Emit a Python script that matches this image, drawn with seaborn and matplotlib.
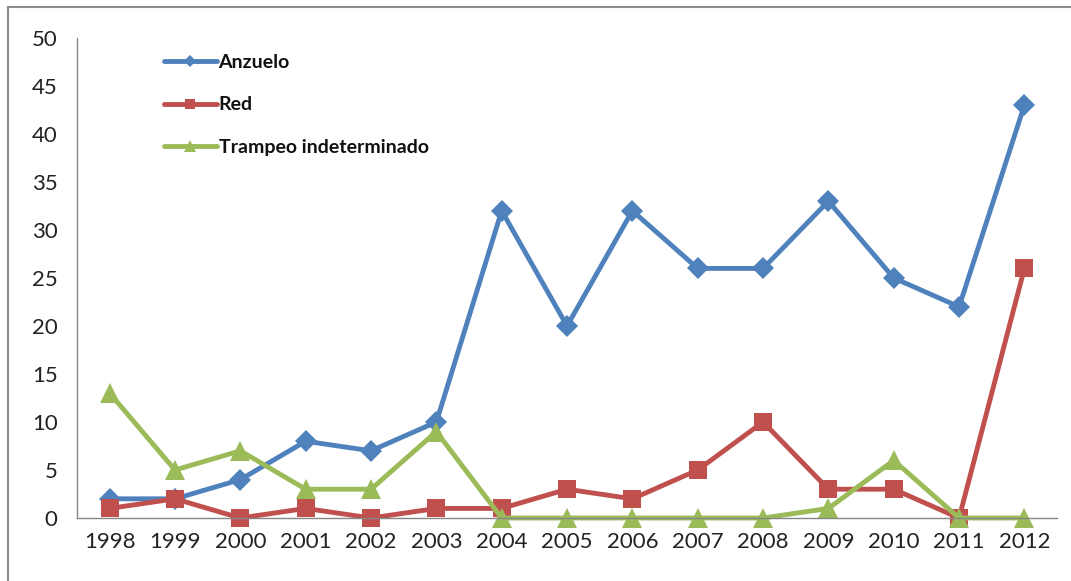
import pandas as pd
import numpy as np
import matplotlib
matplotlib.use("Agg")
import matplotlib.pyplot as plt
import seaborn as sns
from matplotlib.patches import Rectangle
from matplotlib.ticker import FixedLocator

years = [1998, 1999, 2000, 2001, 2002, 2003, 2004, 2005, 2006, 2007, 2008, 2009, 2010, 2011, 2012]
anzuelo = [2, 2, 4, 8, 7, 10, 32, 20, 32, 26, 26, 33, 25, 22, 43]
red = [1, 2, 0, 1, 0, 1, 1, 3, 2, 5, 10, 3, 3, 0, 26]
trampeo = [13, 5, 7, 3, 3, 9, 0, 0, 0, 0, 0, 1, 6, 0, 0]
series_names = ["Anzuelo", "Red", "Trampeo indeterminado"]

df = pd.DataFrame({"year": years * 3,
                   "value": anzuelo + red + trampeo,
                   "serie": sum([[n] * len(years) for n in series_names], [])})

sns.set_style("white")
plt.rcParams["font.family"] = ["Lato", "DejaVu Sans"]

fig = plt.figure(figsize=(10.71, 5.81), dpi=100)
ax = fig.add_axes([0.0719, 0.1084, 0.9151, 0.8262])

palette = {"Anzuelo": "#4F81BD", "Red": "#C0504D", "Trampeo indeterminado": "#9BBB59"}
markers = {"Anzuelo": "D", "Red": "s", "Trampeo indeterminado": "^"}
sizes = {"Anzuelo": 11.5, "Red": 13.5, "Trampeo indeterminado": 15}

for name in series_names:
    sub = df[df["serie"] == name]
    sns.lineplot(data=sub, x="year", y="value", ax=ax, color=palette[name],
                 marker=markers[name], markersize=sizes[name], linewidth=3.5,
                 markeredgewidth=0, label=name)
for ln in ax.lines:
    ln.set_clip_on(False)

ax.set_xlim(1997.5, 2012.5)
ax.set_ylim(0, 50)
ax.set_yticks(np.arange(0, 51, 5))
ax.set_xticks(years)
ax.xaxis.set_minor_locator(FixedLocator(np.arange(1997.5, 2013, 1)))
ax.tick_params(axis="x", which="major", length=0, labelsize=16, pad=10, colors="#222222")
ax.tick_params(axis="x", which="minor", length=6, width=1, color="#868686", direction="out")
ax.tick_params(axis="y", length=6, width=1, color="#868686", labelsize=16, pad=8,
               direction="out", labelcolor="#222222")
ax.set_xlabel("")
ax.set_ylabel("")
for side in ["top", "right"]:
    ax.spines[side].set_visible(False)
for side in ["left", "bottom"]:
    ax.spines[side].set_color("#868686")
    ax.spines[side].set_linewidth(1)

leg = ax.legend(loc="upper left", bbox_to_anchor=(0.071, 1.003), frameon=False,
                handlelength=2.7, handletextpad=0.1, labelspacing=1.3, markerscale=0.55,
                prop={"weight": "bold", "size": 14})
for t in leg.get_texts():
    t.set_color("#111111")

fig.patches.append(Rectangle((8 / 1071, -0.01), 1.1, 1 - 7 / 581 + 0.01,
                             transform=fig.transFigure, fill=False,
                             edgecolor="#8c8c8c", linewidth=1.5))

fig.savefig("out.png", dpi=100)
